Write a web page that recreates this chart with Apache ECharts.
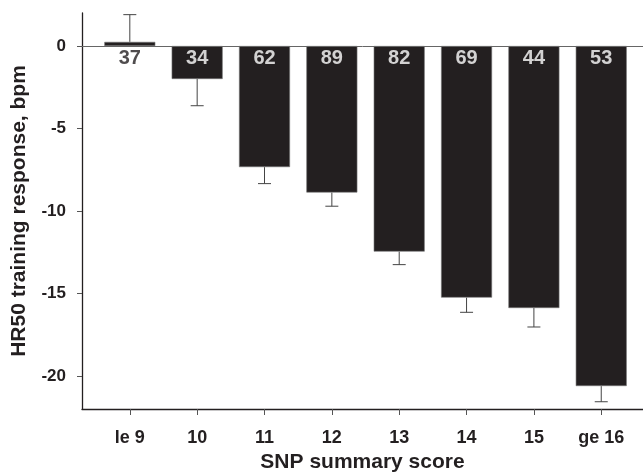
<!DOCTYPE html>
<html><head><meta charset="utf-8">
<script src="https://cdn.jsdelivr.net/npm/echarts@6/dist/echarts.min.js"></script>
<style>html,body{margin:0;padding:0;background:#fff}#c{width:643px;height:473px}</style>
</head><body><div id="c"></div>
<script>
const categories = ['le 9', '10', '11', '12', '13', '14', '15', 'ge 16'];
const positions = [9, 10, 11, 12, 13, 14, 15, 16];
const means = [0.25, -2.0, -7.34, -8.88, -12.46, -15.25, -15.88, -20.61];
const errEnds = [1.9, -3.62, -8.34, -9.71, -13.25, -16.14, -17.03, -21.56];
const counts = [37, 34, 62, 89, 82, 69, 44, 53];
const yTicks = [0, -5, -10, -15, -20];

const font = 'Liberation Sans, Arial, sans-serif';
const chart = echarts.init(document.getElementById('c'));
const catOf = v => categories[positions.indexOf(Math.round(v))] ?? '';

chart.setOption({
  animation: false,
  grid: {left: 82, right: 0, top: 13, bottom: 64, containLabel: false, outerBoundsMode: 'none'},
  xAxis: {
    type: 'value', min: 8.29, max: 16.62,
    name: 'SNP summary score', nameLocation: 'middle', nameGap: 43,
    nameTextStyle: {fontFamily: font, fontWeight: 'bold', fontSize: 21, color: '#231f20'},
    axisLine: {show: true, onZero: false, lineStyle: {color: '#231f20', width: 1.3}},
    axisTick: {show: true, length: 6, lineStyle: {color: '#555'}, customValues: positions},
    axisLabel: {customValues: positions, formatter: v => catOf(v), margin: 20,
      fontFamily: font, fontWeight: 'bold', fontSize: 18, color: '#231f20'},
    splitLine: {show: false}
  },
  yAxis: {
    type: 'value', min: -22, max: 2,
    name: 'HR50 training response, bpm', nameLocation: 'middle', nameGap: 52,
    nameTextStyle: {fontFamily: font, fontWeight: 'bold', fontSize: 21, color: '#231f20'},
    axisLine: {show: true, onZero: false, lineStyle: {color: '#231f20', width: 1.3}},
    axisTick: {show: true, length: 5, lineStyle: {color: '#555'}, customValues: yTicks},
    axisLabel: {customValues: yTicks, margin: 16, fontFamily: font, fontWeight: 'bold', fontSize: 17, color: '#231f20'},
    splitLine: {show: false}
  },
  series: [
    {
      type: 'custom',
      z: 1,
      data: positions.map((p, i) => [p, means[i], errEnds[i]]),
      renderItem: (params, api) => {
        const x = api.value(0);
        const a = api.coord([x, api.value(1)]);
        const b = api.coord([x, api.value(2)]);
        const half = 6.5;
        return {type: 'group', children: [
          {type: 'line', shape: {x1: a[0], y1: a[1], x2: b[0], y2: b[1]}, style: {stroke: '#444', lineWidth: 1}},
          {type: 'line', shape: {x1: b[0] - half, y1: b[1], x2: b[0] + half, y2: b[1]}, style: {stroke: '#444', lineWidth: 1}}
        ]};
      }
    },
    {
      type: 'bar',
      z: 2,
      barWidth: 51,
      data: positions.map((p, i) => [p, means[i]]),
      itemStyle: {color: '#231f20', borderColor: '#777', borderWidth: 0.6},
      markLine: {
        silent: true, symbol: 'none', label: {show: false},
        lineStyle: {color: '#666', width: 1, type: 'solid'},
        data: [{yAxis: 0}]
      }
    },
    {
      type: 'scatter',
      z: 5,
      symbolSize: 0,
      data: positions.map((p, i) => ({
        value: [p, 0],
        label: {color: means[i] >= 0 ? '#231f20' : '#ffffff'}
      })),
      label: {
        show: true, position: 'bottom', distance: 2,
        formatter: p => String(counts[p.dataIndex]),
        fontFamily: font, fontWeight: 'bold', fontSize: 20
      }
    }
  ]
});
</script></body></html>
